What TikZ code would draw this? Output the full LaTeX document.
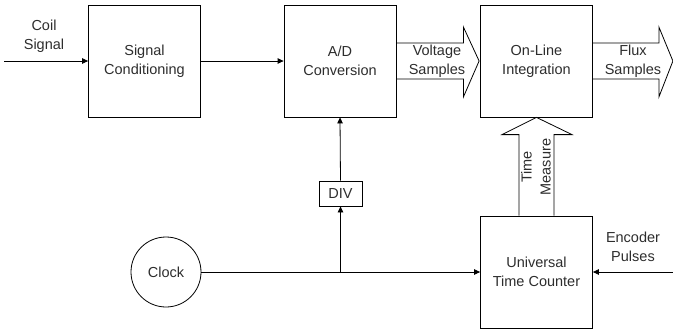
\documentclass[tikz,border=0pt]{standalone}
\usepackage{fontspec}
\setmainfont{Liberation Sans}
\usetikzlibrary{arrows.meta,calc}
\definecolor{txt}{RGB}{45,45,45}
\begin{document}
\begin{tikzpicture}[x=1pt,y=-1pt,
  every node/.style={font=\fontsize{14.5}{19}\selectfont, text=txt},
  blk/.style={draw, line width=0.8pt, minimum width=112pt, minimum height=112pt, align=center, inner sep=0pt},
  conn/.style={line width=0.8pt, -{Triangle[length=6pt,width=5.5pt]}},
  fat/.style={draw, line width=0.8pt, line join=miter},
  lbl/.style={align=center, inner sep=0pt}]
\useasboundingbox (0,0) rectangle (673,330);
% blocks
\node[blk] (sc) at (144.5,61) {Signal\\Conditioning};
\node[blk] (ad) at (340,61) {A/D\\Conversion};
\node[blk] (oli) at (536.5,61) {On-Line\\Integration};
\node[blk] (utc) at (536.5,272) {Universal\\Time Counter};
\node[draw, line width=0.8pt, minimum width=43pt, minimum height=25pt, inner sep=0pt] (div) at (340.5,193.5) {DIV};
\node[draw, circle, line width=0.8pt, minimum size=70pt, inner sep=0pt] (clk) at (166,272) {Clock};
% free ends
\coordinate (coil) at (4,61);
\coordinate (enc) at (673,272);
\coordinate (j) at (div.south |- clk.east);
% connectors
\draw[conn] (coil) -- (sc.west);
\draw[conn] (sc.east) -- (ad.west);
\draw[line width=0.8pt] (clk.east) -- (j);
\draw[conn] (j) -- (utc.west);
\draw[conn] (j) -- (div.south);
\draw[conn] (div.north) -- (ad.south);
\draw[conn] (enc) -- (utc.east);
% block arrows
\draw[fat] ($(ad.east)+(0,-18)$) -- ++(67,0) -- ++(0,-16) -- ($(oli.west)+(-1,0)$) -- ($(ad.east)+(67,36)$) -- ++(0,-18) -- ($(ad.east)+(0,18)$);
\draw[fat] ($(oli.east)+(0,-18)$) -- ++(66,0) -- ++(0,-16) -- ($(oli.east)+(80,0)$) -- ($(oli.east)+(66,36)$) -- ++(0,-18) -- ($(oli.east)+(0,18)$);
\draw[fat] ($(utc.north)+(-17.5,0)$) -- ++(0,-81) -- ++(-17,0) -- (oli.south) -- ($(utc.north)+(35.5,-81)$) -- ++(-18,0) -- ($(utc.north)+(17.5,0)$);
% labels
\node[lbl] (lcoil) at (44,36) {Coil\\Signal};
\node[lbl] (lvolt) at (437,61.5) {Voltage\\Samples};
\node[lbl] (lflux) at (633,61.5) {Flux\\Samples};
\node[lbl] (lenc) at (633,247) {Encoder\\Pulses};
\node[lbl, rotate=90] (ltime) at (536,167) {Time\\Measure};
\end{tikzpicture}
\end{document}
